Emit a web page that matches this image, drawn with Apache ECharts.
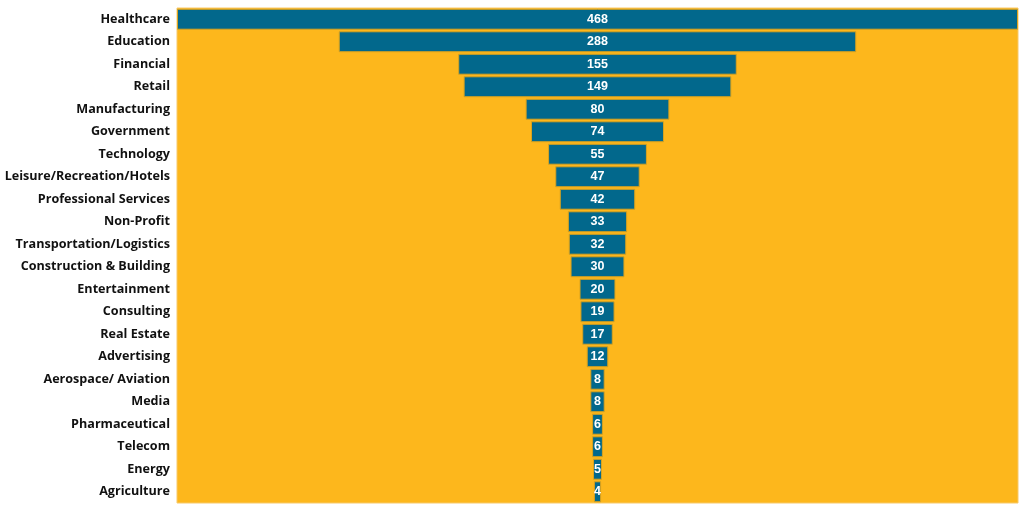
<!DOCTYPE html>
<html>
<head>
<meta charset="utf-8">
<script src="https://cdn.jsdelivr.net/npm/echarts@6/dist/echarts.min.js"></script>
<style>
  html, body { margin: 0; padding: 0; background: #fff; }
  #chart { width: 1024px; height: 508px; }
</style>
</head>
<body>
<div id="chart"></div>
<script>
var categories = ['Healthcare', 'Education', 'Financial', 'Retail', 'Manufacturing', 'Government',
    'Technology', 'Leisure/Recreation/Hotels', 'Professional Services', 'Non-Profit',
    'Transportation/Logistics', 'Construction & Building', 'Entertainment', 'Consulting',
    'Real Estate', 'Advertising', 'Aerospace/ Aviation', 'Media', 'Pharmaceutical',
    'Telecom', 'Energy', 'Agriculture'];
var counts = [468, 288, 155, 149, 80, 74, 55, 47, 42, 33, 32, 30, 20, 19, 17, 12, 8, 8, 6, 6, 5, 4];

var maxCount = Math.max.apply(null, counts);
// invisible spacer so every bar sits centred
var spacer = counts.map(function (v) { return (maxCount - v) / 2; });

var myChart = echarts.init(document.getElementById('chart'));

var option = {
    animation: false,
    grid: {
        left: 177, right: 6, top: 8, bottom: 5,
        outerBoundsMode: 'none',
        containLabel: false,
        show: true,
        backgroundColor: '#FDB71C',
        borderColor: '#F7C96A',
        borderWidth: 1
    },
    xAxis: {
        type: 'value',
        min: 0,
        max: maxCount,
        show: false
    },
    yAxis: {
        type: 'category',
        data: categories,
        inverse: true,
        axisLine: { show: false },
        axisTick: { show: false },
        axisLabel: {
            color: '#111',
            fontWeight: 'bold',
            fontSize: 12.6,
            fontFamily: 'Open Sans',
            margin: 7
        }
    },
    series: [{
        type: 'bar',
        stack: 'funnel',
        data: spacer,
        itemStyle: { color: 'transparent' },
        silent: true
    }, {
        type: 'bar',
        stack: 'funnel',
        data: counts,
        barCategoryGap: '7%',
        itemStyle: {
            color: '#02688C',
            borderColor: '#D9A21E',
            borderWidth: 1
        },
        label: {
            show: true,
            position: 'inside',
            color: '#fff',
            fontWeight: 'bold',
            fontSize: 12.5,
            fontFamily: 'Arial'
        }
    }]
};

myChart.setOption(option);
</script>
</body>
</html>
